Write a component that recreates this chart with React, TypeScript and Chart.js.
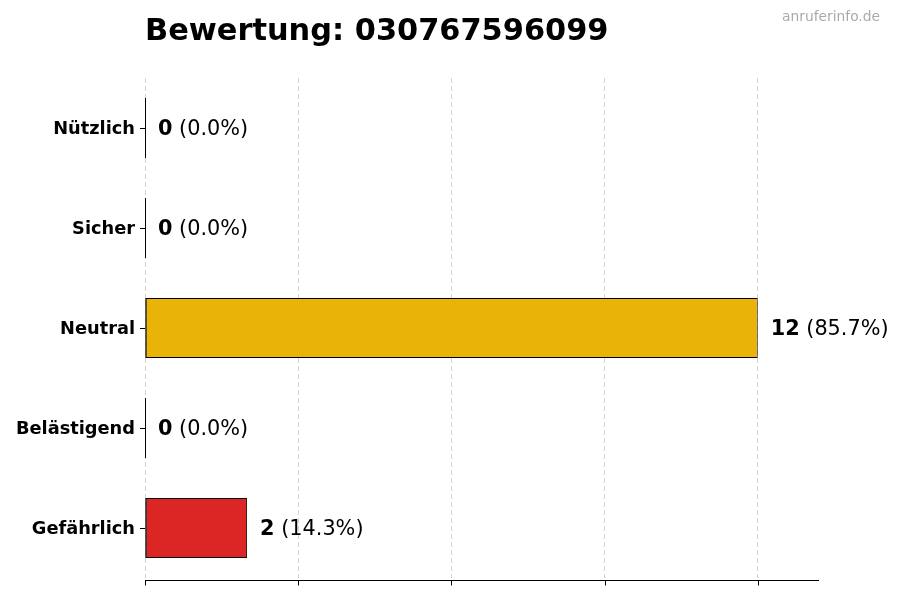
import { useEffect, useRef } from "react";
import { Chart, registerables } from "chart.js";

Chart.register(...registerables);

const FONT = "'DejaVu Sans', sans-serif";

const titleText = "Bewertung: 030767596099";
const watermark = "anruferinfo.de";
const categories = ["Nützlich", "Sicher", "Neutral", "Belästigend", "Gefährlich"];
const counts = [0, 0, 12, 0, 2];
const barColors = ["#16A34A", "#22C55E", "#EAB308", "#F97316", "#DC2626"];
const xTicks = [0, 3, 6, 9, 12];
const xMax = 13.2;

// value labels, zero-bar edges, bottom axis, title and watermark
const decorPlugin = {
  id: "decor",
  afterDatasetsDraw(chart: any) {
    const ctx = chart.ctx;
    const { left, right, bottom } = chart.chartArea;
    const xScale = chart.scales.x;
    const meta = chart.getDatasetMeta(0);
    const total = counts.reduce((a, b) => a + b, 0);
    ctx.save();

    // bottom spine, sitting a little below the plot area
    const axisY = bottom + 2.5;
    ctx.strokeStyle = "#000";
    ctx.lineWidth = 1.2;
    ctx.beginPath();
    ctx.moveTo(left, axisY);
    ctx.lineTo(right, axisY);
    ctx.stroke();
    ctx.lineWidth = 1;
    xTicks.forEach((t) => {
      const px = Math.round(xScale.getPixelForValue(t)) + 0.5;
      ctx.beginPath();
      ctx.moveTo(px, axisY);
      ctx.lineTo(px, axisY + 5);
      ctx.stroke();
    });

    meta.data.forEach((bar: any, i: number) => {
      const { x, y, base, height } = bar.getProps(["x", "y", "base", "height"], true);
      ctx.strokeStyle = "#000";
      ctx.lineWidth = 1;
      ctx.beginPath();
      ctx.moveTo(base + 0.5, y - height / 2);
      ctx.lineTo(base + 0.5, y + height / 2);
      ctx.stroke();

      const pct = total ? ((counts[i] / total) * 100).toFixed(1) : "0.0";
      const v = String(counts[i]);
      const tx = x + 13;
      const ty = y + 1.5;
      ctx.textBaseline = "middle";
      ctx.textAlign = "left";
      ctx.fillStyle = "#000";
      ctx.font = `bold 20.8px ${FONT}`;
      ctx.fillText(v, tx, ty);
      const w = ctx.measureText(v).width;
      ctx.font = `20.8px ${FONT}`;
      ctx.fillText(` (${pct}%)`, tx + w, ty);
    });

    ctx.textBaseline = "alphabetic";
    ctx.textAlign = "left";
    ctx.fillStyle = "#000";
    ctx.font = `bold 30.4px ${FONT}`;
    ctx.fillText(titleText, left, 40);

    ctx.textAlign = "right";
    ctx.textBaseline = "middle";
    ctx.fillStyle = "#aaaaaa";
    ctx.font = `13.8px ${FONT}`;
    ctx.fillText(watermark, 880, 17);
    ctx.restore();
  },
};

const App = () => {
  const canvasRef = useRef<HTMLCanvasElement>(null);

  useEffect(() => {
    if (!canvasRef.current) return;

    const chart = new Chart(canvasRef.current, {
      type: "bar",
      data: {
        labels: categories,
        datasets: [
          {
            data: counts,
            backgroundColor: barColors,
            borderColor: "#000",
            borderWidth: 1,
            borderSkipped: false,
            barPercentage: 0.6,
            categoryPercentage: 1,
          },
        ],
      },
      options: {
        indexAxis: "y",
        animation: false,
        responsive: true,
        maintainAspectRatio: false,
        layout: { padding: { top: 78, right: 81, left: 0, bottom: 0 } },
        plugins: {
          legend: { display: false },
          title: { display: false },
          tooltip: { enabled: false },
        },
        scales: {
          x: {
            type: "linear",
            min: 0,
            max: xMax,
            afterBuildTicks: (scale: any) => {
              scale.ticks = xTicks.map((v) => ({ value: v }));
            },
            afterFit: (scale: any) => {
              scale.height = 22;
            },
            ticks: { display: false },
            grid: {
              color: "rgba(0,0,0,0.17)",
              lineWidth: 1,
              drawTicks: false,
            },
            border: { display: false, dash: [5, 3] },
          },
          y: {
            afterFit: (scale: any) => {
              scale.width = 145;
            },
            ticks: {
              color: "#000",
              padding: 5,
              labelOffset: 1.5,
              font: { family: FONT, size: 17.8, weight: "bold" },
            },
            grid: {
              offset: false,
              drawOnChartArea: false,
              drawTicks: true,
              tickLength: 5,
              tickColor: "#000",
              tickWidth: 1,
            },
            border: { display: false },
          },
        },
      },
      plugins: [decorPlugin],
    } as any);

    return () => {
      chart.destroy();
    };
  }, []);

  return (
    <div style={{ position: "fixed", left: 0, top: 0, width: 900, height: 600, background: "#fff" }}>
      <canvas ref={canvasRef}></canvas>
    </div>
  );
};

export default App;
